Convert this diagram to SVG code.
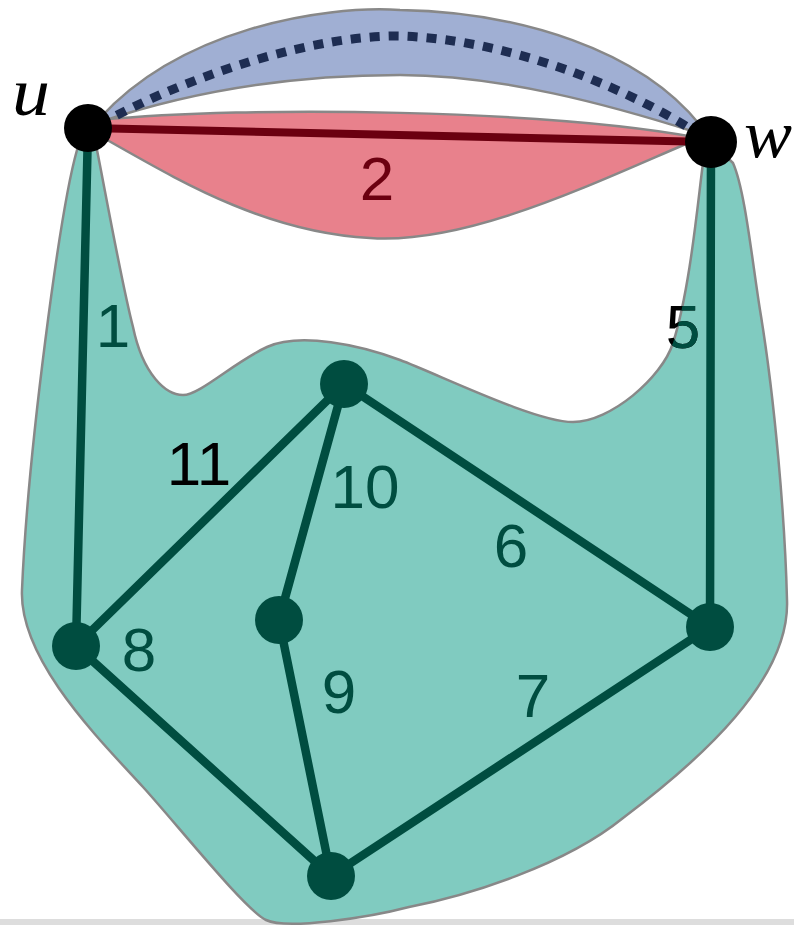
<svg xmlns="http://www.w3.org/2000/svg" width="794" height="925" viewBox="0 0 794 925">
<style>
.region{stroke:#888888;stroke-width:2.5;stroke-linejoin:round}
.teal{fill:#80cbc0}
.red{fill:#e8818c}
.blue{fill:#a0afd3}
.edge{stroke:#004d40;stroke-width:8.5;fill:none;stroke-linecap:round}
.gnode{fill:#004d40}
.bnode{fill:#000000}
.lbl{font-family:"Liberation Sans","DejaVu Sans",sans-serif;font-size:62px;text-anchor:middle;fill:#004d40}
.var{font-family:"Liberation Serif","DejaVu Serif",serif;font-style:italic;font-size:68px;fill:#000}
</style>
<defs>
<path id="tealShape" d="M 88,128 L 77,150 C 60,210 28,450 22,590 C 19,660 100,740 143,787 C 175,822 245,910 266,920 C 287,930 369,917.5 409,907 C 470,895 565,865 623,818 C 700,760 790,680 787,600 C 785,520 775,400 760,310 C 752,260 745,190 733,163 L 711,142 L 703,163 C 698,200 690,290 673,343 C 662,378 610,422 573,422 C 535,422 440,375 400,360 C 360,345 300,332 267,347 C 234,362 200,395 183,395 C 166,395 143,375 133,327 C 122,285 105,190 97,150 Z"/>
<clipPath id="inTeal"><path d="M 703,163 C 698,200 690,290 673,343 L 640,400 L 800,400 L 800,163 Z"/></clipPath>
</defs>
<rect x="0" y="919" width="794" height="6" fill="#dddddd"/>
<g id="regions">
<use href="#tealShape" class="region teal"/>
<path class="region red" d="M 88,128 L 100,120 C 250,105 550,110 700,138 C 600,180 470,245 370,238 C 260,232 170,175 100,136 Z"/>
<path class="region blue" d="M 88,128 L 100,118 C 180,30 320,5 400,10 C 520,12 640,50 700,125 L 695,132 C 610,105 500,75 400,75 C 280,75 180,95 100,122 Z"/>
</g>
<g id="connectors">
<path d="M 100,124 C 200,70 320,35 400,36 C 520,40 640,95 700,135" fill="none" stroke="#1e2d52" stroke-width="9" stroke-dasharray="10,9"/>
<line x1="88" y1="128" x2="711" y2="142" stroke="#6b0010" stroke-width="8"/>
<line class="edge" x1="88" y1="128" x2="76" y2="646"/>
<line class="edge" x1="711" y1="142" x2="710" y2="627"/>
<line class="edge" x1="344" y1="384" x2="76" y2="646"/>
<line class="edge" x1="344" y1="384" x2="279" y2="620"/>
<line class="edge" x1="344" y1="384" x2="710" y2="627"/>
<line class="edge" x1="76" y1="646" x2="331" y2="876"/>
<line class="edge" x1="279" y1="620" x2="331" y2="876"/>
<line class="edge" x1="331" y1="876" x2="710" y2="627"/>
</g>
<g id="node-u"><circle class="bnode" cx="88" cy="128" r="24"/><text class="var" x="12" y="115" textLength="38" lengthAdjust="spacingAndGlyphs">u</text></g>
<g id="node-w"><circle class="bnode" cx="711" cy="142" r="26"/><text class="var" x="744" y="157" textLength="48" lengthAdjust="spacingAndGlyphs">w</text></g>
<g id="node-a"><circle class="gnode" cx="344" cy="384" r="24"/></g>
<g id="node-b"><circle class="gnode" cx="279" cy="620" r="24"/></g>
<g id="node-c"><circle class="gnode" cx="76" cy="646" r="24"/></g>
<g id="node-d"><circle class="gnode" cx="710" cy="627" r="24"/></g>
<g id="node-e"><circle class="gnode" cx="331" cy="876" r="24"/></g>
<g id="labels">
<text class="lbl" x="113" y="347">1</text>
<text class="lbl" x="377" y="200" style="fill:#6b0010">2</text>
<text class="lbl" x="683" y="348" style="fill:#000">5</text>
<text class="lbl" x="683" y="348" clip-path="url(#inTeal)">5</text>
<text class="lbl" x="199" y="485" style="fill:#000">11</text>
<text class="lbl" x="365" y="508">10</text>
<text class="lbl" x="511" y="567">6</text>
<text class="lbl" x="139" y="671">8</text>
<text class="lbl" x="339" y="713">9</text>
<text class="lbl" x="533" y="717">7</text>
</g>
</svg>
